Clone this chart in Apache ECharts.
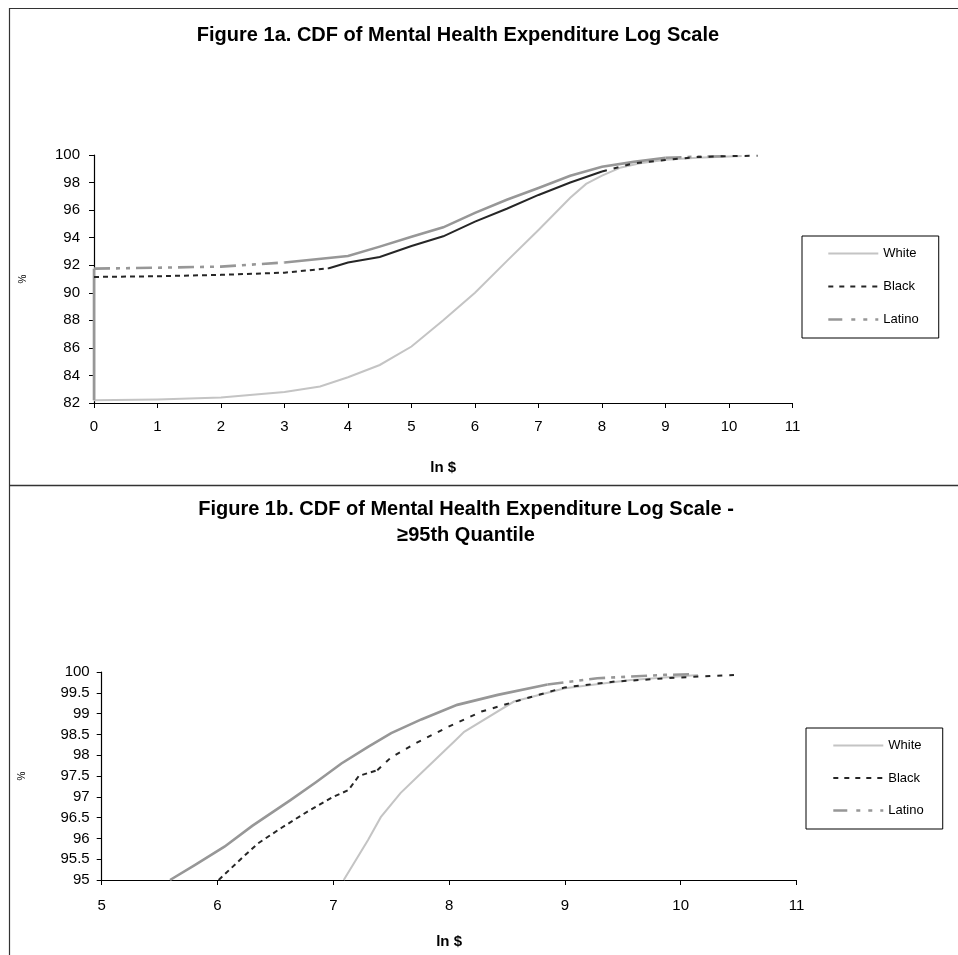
<!DOCTYPE html>
<html><head><meta charset="utf-8">
<script src="https://cdn.jsdelivr.net/npm/echarts@6/dist/echarts.min.js"></script>
<style>html,body{margin:0;padding:0;background:#fff}#c{width:958px;height:955px}</style>
</head><body><div id="c"></div>
<script>
// ---------- text ----------
const titleA = 'Figure 1a. CDF of Mental Health Expenditure Log Scale';
const titleB = 'Figure 1b. CDF of Mental Health Expenditure Log Scale -\n≥95th Quantile';
const xName = 'ln $';
const yName = '%';
const seriesNames = ['White', 'Black', 'Latino'];

// ---------- tick labels ----------
const xTicksA = [0,1,2,3,4,5,6,7,8,9,10,11];
const yTicksA = [82,84,86,88,90,92,94,96,98,100];
const xTicksB = [5,6,7,8,9,10,11];
const yTicksB = [95,95.5,96,96.5,97,97.5,98,98.5,99,99.5,100];

// ---------- Figure 1a values (ln $, cumulative %) ----------
const whiteXA = [0,1,2,3,3.56,4,4.5,5,5.5,6,6.5,7,7.5,7.75,8,8.3,8.6,9,9.5,10,10.2];
const whiteYA = [82.2,82.25,82.4,82.8,83.2,83.87,84.76,86.1,88.0,90.0,92.3,94.56,96.9,97.9,98.5,99.1,99.4,99.65,99.8,99.9,99.92];
const blackXA = [0,1,2,3,3.7,4,4.5,5,5.5,6,6.5,7,7.5,8,8.5,9,9.5,10,10.45];
const blackYA = [91.15,91.2,91.3,91.46,91.78,92.2,92.6,93.4,94.1,95.16,96.1,97.1,98.0,98.8,99.4,99.64,99.85,99.92,99.95];
const latinoXA = [0,0,1,2,3,4,4.5,5,5.5,6,6.5,7,7.5,8,8.5,9,9.5,10.0];
const latinoYA = [82.2,91.75,91.82,91.9,92.2,92.67,93.35,94.07,94.75,95.8,96.75,97.6,98.5,99.15,99.5,99.8,99.88,99.92];

// ---------- Figure 1b values (>=95th quantile) ----------
const whiteXB = [7.09,7.3,7.41,7.58,7.76,8.06,8.13,8.56,9.0,9.57,10.15];
const whiteYB = [95.0,95.96,96.51,97.09,97.57,98.37,98.56,99.29,99.61,99.81,99.93];
const blackXB = [6.01,6.2,6.35,6.55,6.78,7.0,7.13,7.22,7.38,7.5,7.7,7.99,8.28,8.62,9.0,9.43,10.0,10.46];
const blackYB = [95.0,95.5,95.88,96.25,96.65,97.0,97.16,97.5,97.64,97.95,98.27,98.68,99.05,99.33,99.63,99.77,99.87,99.93];
const latinoXB = [5.59,5.8,6.06,6.3,6.63,6.85,7.07,7.3,7.5,7.76,8.07,8.42,8.85,9.28,9.86,10.12];
const latinoYB = [95.0,95.35,95.8,96.3,96.92,97.35,97.8,98.2,98.53,98.86,99.21,99.45,99.7,99.85,99.93,99.95];

// ---------- styling ----------
const FONT = 'Arial, "Liberation Sans", sans-serif';
const COL = { White: '#c4c4c4', Black: '#262626', Latino: '#979797' };
const WID = { White: 2, Black: 2, Latino: 2.6 };
const DASH_BLACK = [5, 4];
const DASH_BLACK_WIDE = [5, 7];
const DASH_LATINO = [16, 6, 4, 6, 4, 6];

// split a series at the given point indices (a break point ends one piece and starts the next)
function pieces(xs, ys, breaks) {
  const out = []; let start = 0;
  breaks.concat([xs.length - 1]).forEach(b => {
    const seg = [];
    for (let i = start; i <= b; i++) seg.push([xs[i], ys[i]]);
    out.push(seg); start = b;
  });
  return out;
}

const series = [];
function addSeries(name, xs, ys, breaks, styles, ax) {
  pieces(xs, ys, breaks).forEach((d, i) => {
    series.push({
      type: 'line', name, xAxisIndex: ax, yAxisIndex: ax, data: d,
      symbol: 'none', showSymbol: false, clip: true, animation: false,
      silent: true, emphasis: { disabled: true },
      z: name === 'Black' ? 4 : (name === 'Latino' ? 3 : 2),
      lineStyle: { color: COL[name], width: WID[name], type: styles[i], cap: 'butt', join: 'miter' }
    });
  });
}
// Figure 1a
addSeries('White', whiteXA, whiteYA, [], ['solid'], 0);
addSeries('Latino', latinoXA, latinoYA, [1, 4, 15], ['solid', DASH_LATINO, 'solid', DASH_LATINO], 0);
addSeries('Black', blackXA, blackYA, [4, 13], [DASH_BLACK, 'solid', DASH_BLACK_WIDE], 0);
// Figure 1b
addSeries('White', whiteXB, whiteYB, [], ['solid'], 1);
addSeries('Latino', latinoXB, latinoYB, [12], ['solid', DASH_LATINO], 1);
addSeries('Black', blackXB, blackYB, [8], [DASH_BLACK, DASH_BLACK_WIDE], 1);

const legendData = [
  { name: 'White', lineStyle: { color: COL.White, width: WID.White, type: 'solid' } },
  { name: 'Black', lineStyle: { color: COL.Black, width: WID.Black, type: [5, 6] } },
  { name: 'Latino', lineStyle: { color: COL.Latino, width: WID.Latino, type: [14, 9, 4, 8, 4, 8] } }
];

function xAxis(ticks, grid, margin, gap) {
  return {
    type: 'value', gridIndex: grid, min: ticks[0], max: ticks[ticks.length - 1], interval: ticks[1] - ticks[0],
    name: xName, nameLocation: 'middle', nameGap: gap,
    nameTextStyle: { fontFamily: FONT, fontSize: 15, fontWeight: 'bold', color: '#000' },
    axisLine: { show: true, onZero: false, lineStyle: { color: '#000', width: 1.2 } },
    axisTick: { show: true, inside: false, length: 5, lineStyle: { color: '#000' } },
    axisLabel: { show: true, margin: margin, fontFamily: FONT, fontSize: 15, color: '#000', showMinLabel: true, showMaxLabel: true },
    splitLine: { show: false }
  };
}
function yAxis(ticks, grid, margin, gap) {
  return {
    type: 'value', gridIndex: grid, min: ticks[0], max: ticks[ticks.length - 1], interval: ticks[1] - ticks[0],
    name: yName, nameLocation: 'middle', nameGap: gap, nameRotate: 90,
    nameTextStyle: { fontFamily: FONT, fontSize: 10, color: '#000' },
    axisLine: { show: true, onZero: false, lineStyle: { color: '#000', width: 1.2 } },
    axisTick: { show: true, inside: false, length: 5, lineStyle: { color: '#000' } },
    axisLabel: { show: true, margin: margin, fontFamily: FONT, fontSize: 15, color: '#000', showMinLabel: true, showMaxLabel: true },
    splitLine: { show: false }
  };
}

const chart = echarts.init(document.getElementById('c'), null, { renderer: 'canvas' });
chart.setOption({
  backgroundColor: '#fff',
  animation: false,
  title: [
    { text: titleA, left: 458, top: 22, padding: 0, textAlign: 'center',
      textStyle: { fontFamily: FONT, fontSize: 20, fontWeight: 'bold', color: '#000', lineHeight: 26 } },
    { text: titleB, left: 466, top: 496, padding: 0, textAlign: 'center',
      textStyle: { fontFamily: FONT, fontSize: 20, fontWeight: 'bold', color: '#000', lineHeight: 26 } }
  ],
  legend: [
    { data: legendData, orient: 'vertical', left: 802, top: 236, padding: [11, 20, 12, 25],
      itemWidth: 50, itemHeight: 14, itemGap: 20, borderColor: '#000', borderWidth: 1,
      selectedMode: false, itemStyle: { opacity: 0 },
      textStyle: { fontFamily: FONT, fontSize: 13, color: '#000' } },
    { data: legendData, orient: 'vertical', left: 806, top: 728, padding: [11, 19, 12, 26],
      itemWidth: 50, itemHeight: 14, itemGap: 19.5, borderColor: '#000', borderWidth: 1,
      selectedMode: false, itemStyle: { opacity: 0 },
      textStyle: { fontFamily: FONT, fontSize: 13, color: '#000' } }
  ],
  grid: [
    { left: 94, top: 155, width: 698.5, height: 248, containLabel: false, outerBoundsMode: 'none' },
    { left: 101.7, top: 672, width: 694.8, height: 208, containLabel: false, outerBoundsMode: 'none' }
  ],
  xAxis: [ xAxis(xTicksA, 0, 16, 57), xAxis(xTicksB, 1, 18, 54.5) ],
  yAxis: [ yAxis(yTicksA, 0, 14, 66), yAxis(yTicksB, 1, 12, 74) ],
  graphic: [
    { type: 'line', shape: { x1: 9, y1: 8.5, x2: 958, y2: 8.5 }, style: { stroke: '#333', lineWidth: 1.2 }, silent: true },
    { type: 'line', shape: { x1: 9.5, y1: 8, x2: 9.5, y2: 955 }, style: { stroke: '#333', lineWidth: 1.2 }, silent: true },
    { type: 'line', shape: { x1: 9, y1: 485.5, x2: 958, y2: 485.5 }, style: { stroke: '#333', lineWidth: 1.5 }, silent: true }
  ],
  series: series
});
</script></body></html>
